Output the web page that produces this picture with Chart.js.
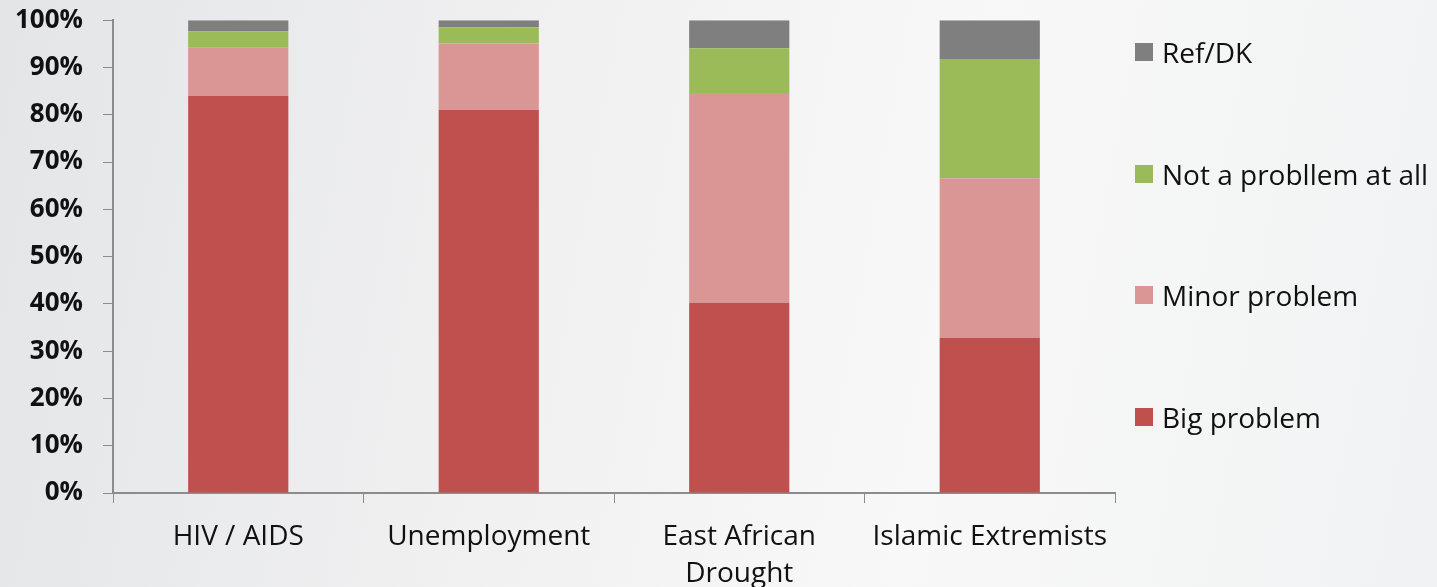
<!DOCTYPE html>
<html>
<head>
<meta charset="utf-8">
<script src="https://cdn.jsdelivr.net/npm/chart.js@4/dist/chart.umd.min.js"></script>
<style>
  html, body { margin: 0; padding: 0; }
  body {
    width: 1437px; height: 587px; overflow: hidden; position: relative;
    background: linear-gradient(100deg, #e4e5e7 0%, #f0f0f1 35%, #f8f8f8 65%, #f1f2f3 100%);
    font-family: "Open Sans", sans-serif;
  }
  #wrap { position: absolute; left: 0; top: 0; width: 1437px; height: 587px; }
  #legend { position: absolute; left: 1135px; top: 0; }
  .item { position: absolute; left: 0; white-space: nowrap; font-size: 28px; color: #111; display: flex; align-items: center; height: 40px; }
  .box { width: 18px; height: 18px; margin-right: 9px; }
</style>
</head>
<body>
<div id="wrap"><canvas id="chart"></canvas></div>
<div id="legend"></div>
<script>
// categorías y series
const categories = ['HIV / AIDS', 'Unemployment', ['East African', 'Drought'], 'Islamic Extremists'];
const bigProblem = [84, 81, 40.2, 32.8];
const minorProblem = [10.3, 14.1, 44.4, 33.8];
const notProblem = [3.4, 3.4, 9.5, 25.2];
const refDK = [2.3, 1.5, 5.9, 8.2];
const yTicks = [0, 10, 20, 30, 40, 50, 60, 70, 80, 90, 100];

const seriesNames = ['Big problem', 'Minor problem', 'Not a probllem at all', 'Ref/DK'];
const seriesColors = ['#c0504d', '#da9694', '#9bbb59', '#7f7f7f'];
const seriesData = [bigProblem, minorProblem, notProblem, refDK];

const axisColor = '#8c8c8c';

const ctx = document.getElementById('chart').getContext('2d');
new Chart(ctx, {
    type: 'bar',
    data: {
        labels: categories,
        datasets: seriesData.map((d, i) => ({
            label: seriesNames[i],
            data: d,
            backgroundColor: seriesColors[i],
            borderWidth: 0,
            categoryPercentage: 1,
            barPercentage: 0.4
        }))
    },
    options: {
        responsive: true,
        maintainAspectRatio: false,
        animation: false,
        layout: { padding: { top: 0, right: 322, left: 0, bottom: 0 } },
        plugins: {
            legend: { display: false },
            tooltip: { enabled: false }
        },
        scales: {
            x: {
                stacked: true,
                grid: { display: true, drawOnChartArea: false, color: axisColor, tickLength: 10, offset: true },
                border: { color: axisColor, width: 2 },
                ticks: { color: '#111', font: { family: 'Open Sans', size: 28, lineHeight: 1.3 }, padding: 16, maxRotation: 0, autoSkip: false },
                afterFit: s => { s.height = 94; }
            },
            y: {
                stacked: true,
                min: 0,
                max: 100,
                afterBuildTicks: s => { s.ticks = yTicks.map(v => ({ value: v })); },
                grid: { display: true, drawOnChartArea: false, color: axisColor, tickLength: 10 },
                border: { color: axisColor, width: 2 },
                ticks: {
                    color: '#111',
                    // lineHeight chico: solo afecta el margen superior, no el dibujo
                    font: { family: 'Open Sans', size: 26, weight: 'bold', lineHeight: 0.02 },
                    padding: 20,
                    callback: v => v + '%'
                },
                afterFit: s => { s.width = 113; }
            }
        }
    }
});

// leyenda (orden invertido, como en el original)
const legendCenters = [417, 295, 174, 52];
const legend = document.getElementById('legend');
seriesNames.forEach((name, i) => {
    const el = document.createElement('div');
    el.className = 'item';
    el.style.top = (legendCenters[i] - 20) + 'px';
    el.innerHTML = '<span class="box" style="background:' + seriesColors[i] + '"></span><span>' + name + '</span>';
    legend.appendChild(el);
});
</script>
</body>
</html>
